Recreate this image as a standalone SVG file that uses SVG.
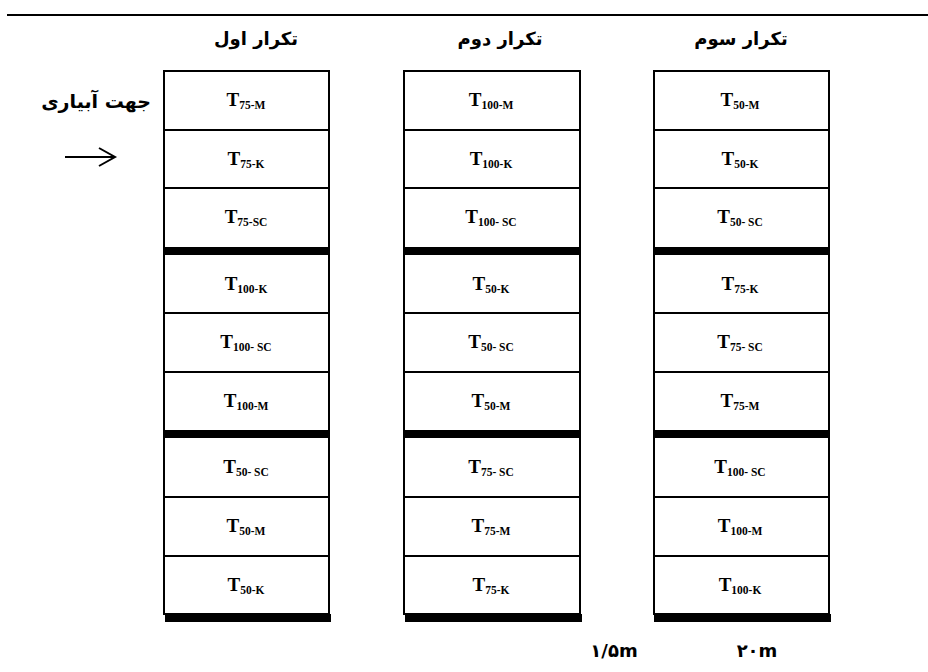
<svg xmlns="http://www.w3.org/2000/svg" width="928" height="672" viewBox="0 0 928 672">
<style>
.box{fill:#fff;stroke:#000;stroke-width:2}
.thin{stroke:#000;stroke-width:2}
.band{fill:#000}
.t{font-family:"Liberation Serif","Times New Roman",serif;font-weight:bold;font-size:19px;fill:#000;text-anchor:middle}
.s{font-size:11.5px}
.fa{font-family:"DejaVu Sans","Noto Sans",sans-serif;font-weight:bold;font-size:18px;fill:#000}
</style>
<rect width="928" height="672" fill="#fff"/>
<line x1="7" y1="15" x2="928" y2="15" stroke="#000" stroke-width="2"/>
<g id="headers">
<text class="fa" x="256" y="45" text-anchor="middle">تکرار اول</text>
<text class="fa" x="500" y="45" text-anchor="middle">تکرار دوم</text>
<text class="fa" x="741" y="45" text-anchor="middle">تکرار سوم</text>
</g>
<g id="direction">
<text class="fa" x="151" y="108" text-anchor="end" style="font-size:19px">جهت آبیاری</text>
</g>
<g id="connectors">
<path d="M65 157H115M99 148L115 157L99 166" fill="none" stroke="#000" stroke-width="2"/>
</g>
<g id="col1">
<rect class="box" x="164" y="71" width="165" height="543"/>
<line class="thin" x1="164" y1="130" x2="329" y2="130"/>
<line class="thin" x1="164" y1="188" x2="329" y2="188"/>
<rect class="band" x="165" y="247" width="165" height="8"/>
<line class="thin" x1="164" y1="313" x2="329" y2="313"/>
<line class="thin" x1="164" y1="372" x2="329" y2="372"/>
<rect class="band" x="165" y="430" width="165" height="8"/>
<line class="thin" x1="164" y1="497" x2="329" y2="497"/>
<line class="thin" x1="164" y1="556" x2="329" y2="556"/>
<rect class="band" x="165" y="614" width="166" height="8"/>
<text class="t" x="246" y="106">T<tspan class="s" dy="3">75-M</tspan></text>
<text class="t" x="246" y="165">T<tspan class="s" dy="3">75-K</tspan></text>
<text class="t" x="246" y="223">T<tspan class="s" dy="3">75-SC</tspan></text>
<text class="t" x="246" y="290">T<tspan class="s" dy="3">100-K</tspan></text>
<text class="t" x="246" y="348">T<tspan class="s" dy="3">100- SC</tspan></text>
<text class="t" x="246" y="407">T<tspan class="s" dy="3">100-M</tspan></text>
<text class="t" x="246" y="473">T<tspan class="s" dy="3">50- SC</tspan></text>
<text class="t" x="246" y="532">T<tspan class="s" dy="3">50-M</tspan></text>
<text class="t" x="246" y="591">T<tspan class="s" dy="3">50-K</tspan></text>
</g>
<g id="col2">
<rect class="box" x="404" y="71" width="176" height="543"/>
<line class="thin" x1="404" y1="130" x2="580" y2="130"/>
<line class="thin" x1="404" y1="188" x2="580" y2="188"/>
<rect class="band" x="405" y="247" width="176" height="8"/>
<line class="thin" x1="404" y1="313" x2="580" y2="313"/>
<line class="thin" x1="404" y1="372" x2="580" y2="372"/>
<rect class="band" x="405" y="430" width="176" height="8"/>
<line class="thin" x1="404" y1="497" x2="580" y2="497"/>
<line class="thin" x1="404" y1="556" x2="580" y2="556"/>
<rect class="band" x="405" y="614" width="177" height="8"/>
<text class="t" x="491" y="106">T<tspan class="s" dy="3">100-M</tspan></text>
<text class="t" x="491" y="165">T<tspan class="s" dy="3">100-K</tspan></text>
<text class="t" x="491" y="223">T<tspan class="s" dy="3">100- SC</tspan></text>
<text class="t" x="491" y="290">T<tspan class="s" dy="3">50-K</tspan></text>
<text class="t" x="491" y="348">T<tspan class="s" dy="3">50- SC</tspan></text>
<text class="t" x="491" y="407">T<tspan class="s" dy="3">50-M</tspan></text>
<text class="t" x="491" y="473">T<tspan class="s" dy="3">75- SC</tspan></text>
<text class="t" x="491" y="532">T<tspan class="s" dy="3">75-M</tspan></text>
<text class="t" x="491" y="591">T<tspan class="s" dy="3">75-K</tspan></text>
</g>
<g id="col3">
<rect class="box" x="654" y="71" width="175" height="543"/>
<line class="thin" x1="654" y1="130" x2="829" y2="130"/>
<line class="thin" x1="654" y1="188" x2="829" y2="188"/>
<rect class="band" x="655" y="247" width="175" height="8"/>
<line class="thin" x1="654" y1="313" x2="829" y2="313"/>
<line class="thin" x1="654" y1="372" x2="829" y2="372"/>
<rect class="band" x="655" y="430" width="175" height="8"/>
<line class="thin" x1="654" y1="497" x2="829" y2="497"/>
<line class="thin" x1="654" y1="556" x2="829" y2="556"/>
<rect class="band" x="654" y="614" width="177" height="8"/>
<text class="t" x="740" y="106">T<tspan class="s" dy="3">50-M</tspan></text>
<text class="t" x="740" y="165">T<tspan class="s" dy="3">50-K</tspan></text>
<text class="t" x="740" y="223">T<tspan class="s" dy="3">50- SC</tspan></text>
<text class="t" x="740" y="290">T<tspan class="s" dy="3">75-K</tspan></text>
<text class="t" x="740" y="348">T<tspan class="s" dy="3">75- SC</tspan></text>
<text class="t" x="740" y="407">T<tspan class="s" dy="3">75-M</tspan></text>
<text class="t" x="740" y="473">T<tspan class="s" dy="3">100- SC</tspan></text>
<text class="t" x="740" y="532">T<tspan class="s" dy="3">100-M</tspan></text>
<text class="t" x="740" y="591">T<tspan class="s" dy="3">100-K</tspan></text>
</g>
<g id="dimensions">
<text class="fa" x="614" y="657" text-anchor="middle" direction="ltr">۱/۵m</text>
<text class="fa" x="757" y="657" text-anchor="middle" direction="ltr">۲۰m</text>
</g>
</svg>
